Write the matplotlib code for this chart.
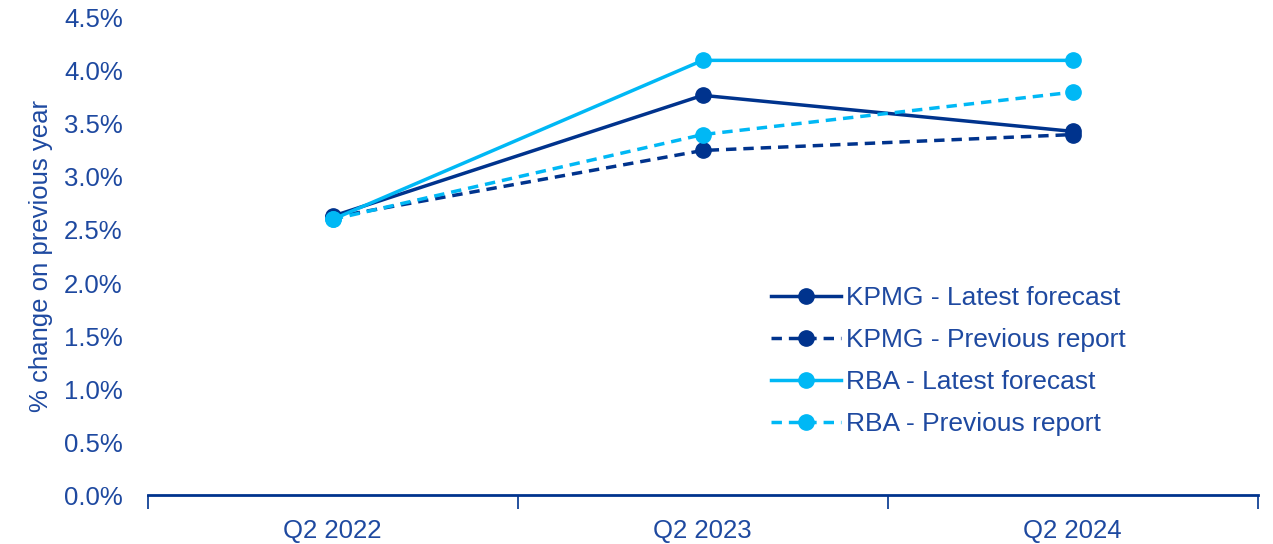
import matplotlib.pyplot as plt
from matplotlib.ticker import PercentFormatter

periods = ["Q2 2022", "Q2 2023", "Q2 2024"]
kpmg_latest = [2.63, 3.77, 3.43]
kpmg_previous = [2.62, 3.25, 3.40]
rba_latest = [2.60, 4.10, 4.10]
rba_previous = [2.60, 3.40, 3.80]

navy = "#00338D"
cyan = "#00B8F5"
text_col = "#1E49A0"

plt.rcParams["font.family"] = ["Liberation Sans", "DejaVu Sans"]

fig = plt.figure(figsize=(12.73, 5.44), dpi=100)
ax = fig.add_axes([0.116, 0.090, 0.872, 0.877])

x = range(len(periods))
ax.plot(x, kpmg_latest, color=navy, lw=2.5, marker="o", ms=11, label="KPMG - Latest forecast")
ax.plot(x, kpmg_previous, color=navy, lw=2.5, ls=(0, (3, 2)), marker="o", ms=11,
        label="KPMG - Previous report")
ax.plot(x, rba_latest, color=cyan, lw=2.5, marker="o", ms=11, label="RBA - Latest forecast")
ax.plot(x, rba_previous, color=cyan, lw=2.5, ls=(0, (3, 2)), marker="o", ms=11,
        label="RBA - Previous report")

ax.set_xlim(-0.5, 2.5)
ax.set_ylim(0, 4.5)
ax.set_yticks([i * 0.5 for i in range(10)])
ax.yaxis.set_major_formatter(PercentFormatter(decimals=1))
ax.set_xticks([-0.5, 0.5, 1.5, 2.5])
ax.set_xticklabels([])
ax.set_xticks(list(x), minor=True)
ax.set_xticklabels(periods, minor=True)
ax.tick_params(axis="x", which="major", direction="out", length=10, width=1.2, color=navy)
ax.tick_params(axis="x", which="minor", length=0, pad=17, labelsize=18.5, labelcolor=text_col)
ax.tick_params(axis="y", length=0, pad=18, labelsize=18.5, labelcolor=text_col)

for side in ["top", "right", "left"]:
    ax.spines[side].set_visible(False)
ax.spines["bottom"].set_color(navy)
ax.spines["bottom"].set_linewidth(2)

ax.set_ylabel("% change on previous year", fontsize=18.5, color=text_col, labelpad=8)

ax.legend(loc="upper left", bbox_to_anchor=(0.595, 0.498), bbox_transform=fig.transFigure,
          frameon=False, fontsize=19, labelcolor=text_col, handlelength=2.65,
          handletextpad=0.2, labelspacing=0.68, borderpad=0)

fig.savefig("out.png", dpi=100)
